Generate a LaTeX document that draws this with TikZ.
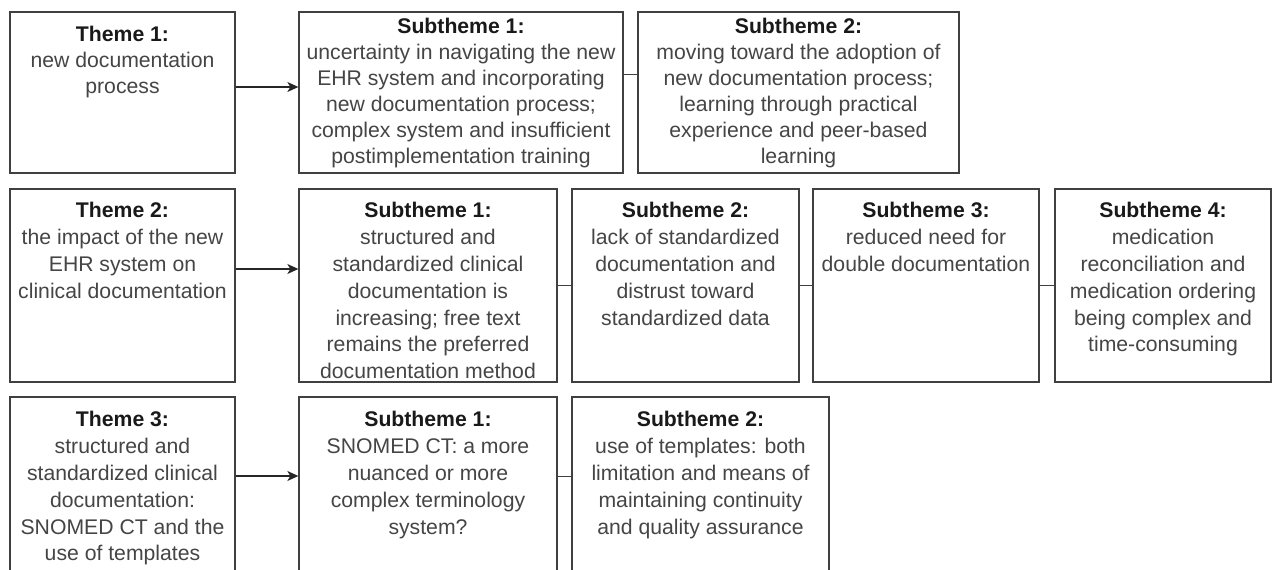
\documentclass[tikz,border=0pt]{standalone}
\usepackage{fontspec}
\setmainfont{Liberation Sans}
\usetikzlibrary{arrows.meta}
\definecolor{edge}{HTML}{404040}
\definecolor{body}{HTML}{454545}
\tikzset{
  box/.style={draw=edge, line width=1.3pt, fill=white, inner sep=0pt},
  txt/.style={anchor=north, inner sep=0pt, align=center, text=body,
    font=\fontsize{21.2}{26}\selectfont},
  txtwide/.style={txt, font=\fontsize{21.2}{26.8}\selectfont},
  arr/.style={draw=black!85, line width=1.3pt, -{Stealth[length=11pt,width=10pt,inset=3pt]}},
  link/.style={draw=edge, line width=1pt}
}
\newcommand{\ttl}[1]{{\bfseries\color{black!90}#1}}
\begin{document}
\begin{tikzpicture}[x=1pt,y=-1pt]
\useasboundingbox (0,0) rectangle (1274,570);
\clip (0,0) rectangle (1274,570);

% ---- row 1 ----
\node[box, minimum width=225, minimum height=161] (t1) at (122.5,92.5) {};
\node[box, minimum width=324, minimum height=161] (s11) at (461,92.5) {};
\node[box, minimum width=321, minimum height=161] (s12) at (798.5,92.5) {};
\node[txt] (t1x) at ([yshift=-15pt]t1.north) {\ttl{Theme 1:}\\new documentation\\process};
\node[txt] (s11x) at ([yshift=-7pt]s11.north) {\ttl{Subtheme 1:}\\uncertainty in navigating the new\\EHR system and incorporating\\new documentation process;\\complex system and insufficient\\postimplementation training};
\node[txt] (s12x) at ([yshift=-7pt]s12.north) {\ttl{Subtheme 2:}\\moving toward the adoption of\\new documentation process;\\learning through practical\\experience and peer-based\\learning};
\draw[arr] ([yshift=5.5pt]t1.east) -- ([yshift=5.5pt]s11.west);
\draw[link] ([yshift=18.5pt]s11.east) -- ([yshift=18.5pt]s12.west);

% ---- row 2 ----
\node[box, minimum width=225, minimum height=193] (t2) at (122.5,285.5) {};
\node[box, minimum width=258, minimum height=193] (s21) at (428,285.5) {};
\node[box, minimum width=227, minimum height=193] (s22) at (685.5,285.5) {};
\node[box, minimum width=226, minimum height=193] (s23) at (926,285.5) {};
\node[box, minimum width=216, minimum height=193] (s24) at (1163,285.5) {};
\node[txtwide] (t2x) at ([yshift=-14pt]t2.north) {\ttl{Theme 2:}\\the impact of the new\\EHR system on\\clinical documentation};
\node[txtwide] (s21x) at ([yshift=-14pt]s21.north) {\ttl{Subtheme 1:}\\structured and\\standardized clinical\\documentation is\\increasing; free text\\remains the preferred\\documentation method};
\node[txtwide] (s22x) at ([yshift=-14pt]s22.north) {\ttl{Subtheme 2:}\\lack of standardized\\documentation and\\distrust toward\\standardized data};
\node[txtwide] (s23x) at ([yshift=-14pt]s23.north) {\ttl{Subtheme 3:}\\reduced need for\\double documentation};
\node[txtwide] (s24x) at ([yshift=-14pt]s24.north) {\ttl{Subtheme 4:}\\medication\\reconciliation and\\medication ordering\\being complex and\\time-consuming};
\draw[arr] ([yshift=16.5pt]t2.east) -- ([yshift=16.5pt]s21.west);
\draw[link] (s21.east) -- (s22.west);
\draw[link] (s22.east) -- (s23.west);
\draw[link] (s23.east) -- (s24.west);

% ---- row 3 ----
\node[box, minimum width=225, minimum height=193] (t3) at (122.5,493.5) {};
\node[box, minimum width=258, minimum height=193] (s31) at (428,493.5) {};
\node[box, minimum width=257, minimum height=193] (s32) at (700.5,493.5) {};
\node[txtwide] (t3x) at ([yshift=-15pt]t3.north) {\ttl{Theme 3:}\\structured and\\standardized clinical\\documentation:\\SNOMED CT and the\\use of templates};
\node[txtwide] (s31x) at ([yshift=-15pt]s31.north) {\ttl{Subtheme 1:}\\SNOMED CT: a more\\nuanced or more\\complex terminology\\system?};
\node[txtwide] (s32x) at ([yshift=-15pt]s32.north) {\ttl{Subtheme 2:}\\use of templates: both\\limitation and means of\\maintaining continuity\\and quality assurance};
\draw[arr] ([yshift=17.5pt]t3.east) -- ([yshift=17.5pt]s31.west);
\draw[link] ([yshift=17.5pt]s31.east) -- ([yshift=17.5pt]s32.west);
\end{tikzpicture}
\end{document}
